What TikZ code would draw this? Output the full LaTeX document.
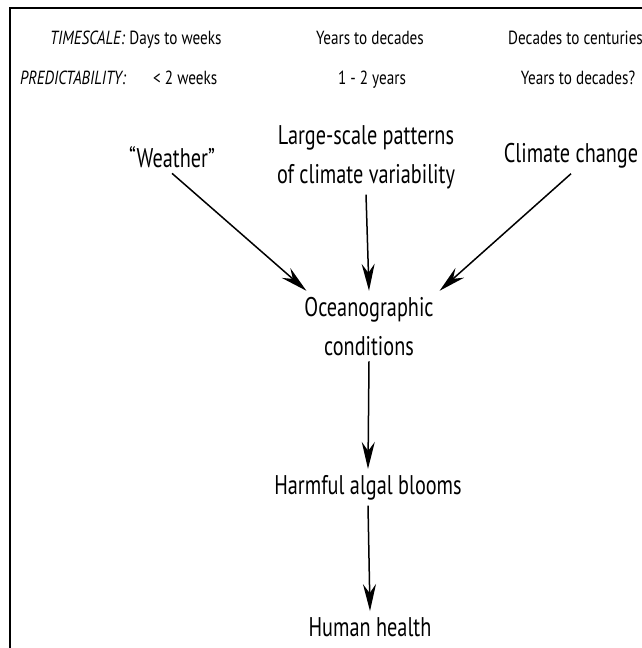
\documentclass[tikz,border=0pt]{standalone}
\usepackage{fontspec}
\setmainfont[FakeStretch=0.75]{PT Sans}
\newfontfamily\headfont[FakeStretch=0.8]{PT Sans}
\usetikzlibrary{arrows.meta}

\tikzset{
  headtext/.style={font=\headfont\fontsize{19}{22}\selectfont, inner sep=0pt},
  stage/.style={font=\fontsize{27}{39}\selectfont, align=center, inner sep=0pt, outer sep=6pt},
  flow/.style={line width=1.5pt, -{Stealth[length=27pt,width=13pt,inset=9pt]}},
}

\begin{document}
\begin{tikzpicture}[x=1pt,y=-1pt]
          \useasboundingbox (0,0) rectangle (642,648);
          \draw[line width=1.4pt] (10,648) -- (10,8) -- (642,8);

          % time scales
          \node[headtext,anchor=base west] (tsA) at (50,44) {\textit{TIMESCALE:} Days to weeks};
          \node[headtext,anchor=base] (tsB) at (370,44) {Years to decades};
          \node[headtext,anchor=base west] (tsC) at (508,44) {Decades to centuries};
          \node[headtext,anchor=base west] (prLabel) at (20,84) {\textit{PREDICTABILITY:}};
          \node[headtext,anchor=base west] (prA) at (153,84) {< 2 weeks};
          \node[headtext,anchor=base] (prB) at (372,84) {1 - 2 years};
          \node[headtext,anchor=base] (prC) at (578,84) {Years to decades?};

          % drivers
          \node[stage,anchor=base] (weather) at (172,167) {“Weather”};
          \node[stage,anchor=base] (patterns) at (366,183) {Large-scale patterns\\of climate variability};
          \node[stage,anchor=base] (climate) at (571,162) {Climate change};

          % chain
          \node[stage,anchor=base] (ocean) at (369,355) {Oceanographic\\conditions};
          \node[stage,anchor=base] (blooms) at (368,494) {Harmful algal blooms};
          \node[stage,anchor=base] (health) at (370,636) {Human health};

          \draw[flow] (weather.south) -- ([xshift=8pt]ocean.north west);
          \draw[flow] (patterns.south) -- (ocean.north);
          \draw[flow] (climate.south) -- (ocean.north east);
          \draw[flow] (ocean.south) -- (blooms.north);
          \draw[flow] (blooms.south) -- (health.north);
\end{tikzpicture}
\end{document}
